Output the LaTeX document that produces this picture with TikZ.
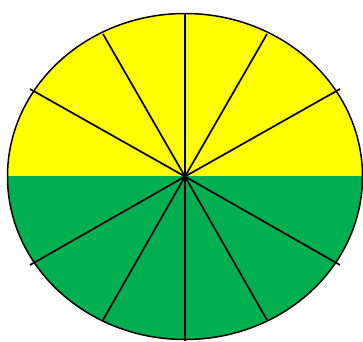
\documentclass[tikz,border=0pt]{standalone}
\definecolor{pieyellow}{HTML}{FFFF00}
\definecolor{piegreen}{HTML}{00B050}
\begin{document}
\begin{tikzpicture}[x=1pt,y=-1pt,spoke/.style={line width=1.7pt,black}]
\useasboundingbox (0,0) rectangle (363,341);
\coordinate (c) at (185,176.5);
\begin{scope}
\clip (0,0) rectangle (363,176.5);
\fill[pieyellow] (c) ellipse [x radius=177.5, y radius=163];
\end{scope}
\begin{scope}
\clip (0,176.5) rectangle (363,341);
\fill[piegreen] (c) ellipse [x radius=177.5, y radius=163];
\end{scope}
\foreach \p in {(185,13),(103,34),(267,34),(30,89),(340,89),(185,341),(103,320),(267,320),(30,265),(340,265)}
  \draw[spoke] (c) -- \p;
\draw[line width=1.5pt] (c) ellipse [x radius=177.5, y radius=163];
\end{tikzpicture}
\end{document}
